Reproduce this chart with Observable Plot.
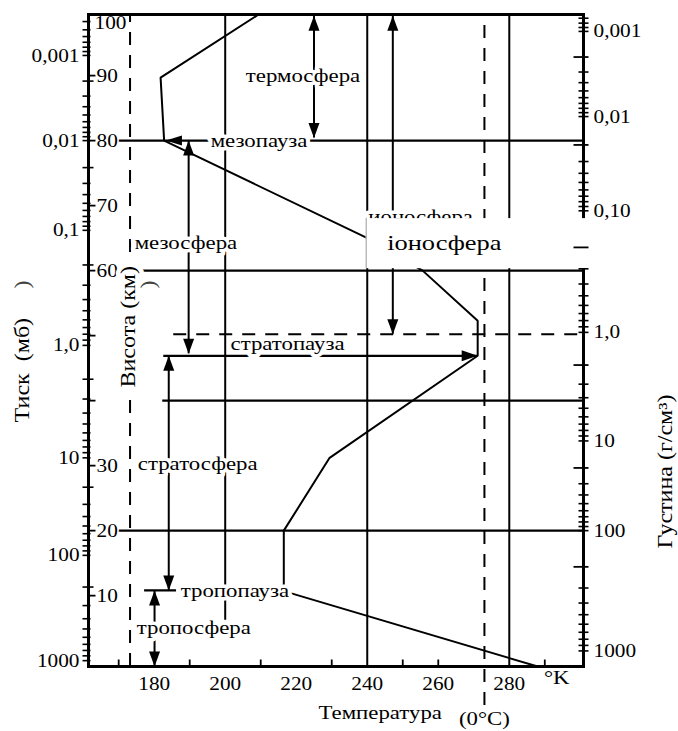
<!DOCTYPE html>
<html><head><meta charset="utf-8">
<script src="https://cdn.jsdelivr.net/npm/d3@7"></script>
<script src="https://cdn.jsdelivr.net/npm/@observablehq/plot@0.6"></script>
<style>
body{margin:0;background:#fff;}
svg{display:block;}
svg text{font-family:"Liberation Serif","Times New Roman",serif;}
</style>
</head><body>
<div id="chart"></div>
<script>
// ---------- data ----------
// temperature profile: temperature (K) vs altitude (km)
const profileT  = [288, 216.5, 216.5, 229.4, 271.1, 271.1, 255.6, 239.6, 182.8, 181.8, 209.4];
const profileKm = [-0.9, 10.7, 20, 31.2, 46.9, 52.3, 60, 65.1, 80, 89.7, 99.4];

const xTickLabels = [180, 200, 220, 240, 260, 280];
const xMinorTicks = [170, 190, 210, 230, 250, 260, 290];

const kmTicks  = [10, 20, 30, 40, 50, 60, 70, 80, 90];
const kmLabels = [90, 80, 70, 60, 30, 20, 10];
const kmTopLabel = 100;

const pressureLabels = ["0,001", "0,01", "0,1", "1,0", "10", "100", "1000"];
const pressureValues = [0.001, 0.01, 0.1, 1, 10, 100, 1000];
const pressureKm     = [93.1, 80, 66.2, 48.5, 31.2, 16.2, 0];

const densityLabels = ["0,001", "0,01", "0,10", "1,0", "10", "100", "1000"];
const densityValues = [0.001, 0.01, 0.1, 1, 10, 100, 1000];
const densityKm     = [96.8, 83.7, 69.2, 50.5, 33.8, 20, 1.5];

// horizontal level lines (km) and where they start (K)
const levelKm     = [80, 60, 40, 20];
const levelFromT  = [169.7, 169.7, 182.4, 169.7];
const dashLevelKm = [50.2];
const dashLevelFromT = [185.5];
const stratopauseKm = [46.9];
const stratopauseFromT = [182.7];
const stratopauseToT = [271.1];
const tropopauseKm = [10.8];
const tropopauseFromT = [177.3];
const tropopauseToT = [186.3];

// vertical lines
const gridT = [200, 240, 280];
const gridFromKm = [6.2, -0.9, -0.9];
const dashT = [173.2, 273];
const dashFromKm = [-0.9, -6.9];

// double-headed vertical arrows
const arrowT      = [225, 247.2, 189.7, 184.1, 180.1];
const arrowLowKm  = [80.4, 50.2, 47.2, 10.8, -0.9];
const arrowHighKm = [99.2, 99.2, 80.0, 46.9, 10.8];
const mesopauseTipT = [183.3];
const mesopauseTipKm = [80];

// layer names
const layerNames = ["термосфера", "мезопауза", "мезосфера", "стратопауза", "стратосфера", "тропопауза", "тропосфера"];
const layerT     = [205.8, 195.9, 174.5, 201.5, 175.4, 187.5, 175.1];
const layerKm    = [90, 80, 64.2, 48.8, 30.3, 10.8, 5.1];
const ionoOld = ["ионосфера"], ionoOldT = [240.3], ionoOldKm = [68.2];
const ionoNew = ["іоносфера"], ionoNewT = [245.6], ionoNewKm = [64.2];
const boxT1 = 239.7, boxT2 = 301.5, boxKm1 = 60.3, boxKm2 = 68.0;

// ---------- helpers ----------
const xDom = [161.5, 300.9], yDom = [-0.9, 99.4];
const font = "Liberation Serif";
const hTick = (a, b) => ({draw(c) { c.moveTo(a, 0); c.lineTo(b, 0); }});
const vTick = (a, b) => ({draw(c) { c.moveTo(0, a); c.lineTo(0, b); }});
const poly = (pts) => ({draw(c) { c.moveTo(...pts[0]); pts.slice(1).forEach(p => c.lineTo(...p)); c.closePath(); }});
const headUp    = poly([[0, 0], [-5.5, 15], [5.5, 15]]);
const headDown  = poly([[0, 0], [-5.5, -15], [5.5, -15]]);
const headLeft  = poly([[0, 0], [16, -5], [16, 5]]);
const headRight = poly([[0, 0], [-16, -5.5], [-16, 5.5]]);

const pScale = d3.scaleLog().domain(pressureValues).range(pressureKm);
const dScale = d3.scaleLog().domain(densityValues).range(densityKm);
const minor = [];
for (let e = -5; e <= 3; e++) for (let k = 1; k <= 9; k++) minor.push({v: k * Math.pow(10, e), k});
const inY = h => h >= yDom[0] - 0.01 && h <= yDom[1];
const pTicks = minor.map(d => ({...d, h: pScale(d.v)})).filter(d => inY(d.h));
const dTicks = minor.map(d => ({...d, h: dScale(d.v)})).filter(d => inY(d.h));

const idx = a => a.map((_, i) => i);
const T = {fontFamily: font, fill: "black"};
const halo = {...T, stroke: "white", strokeWidth: 7, strokeLinejoin: "round", paintOrder: "stroke"};

const plot = Plot.plot({
  width: 678, height: 731,
  marginLeft: 88, marginRight: 95, marginTop: 14, marginBottom: 65,
  x: {domain: xDom, axis: null},
  y: {domain: yDom, axis: null},
  style: {fontFamily: font, fontSize: "19px", background: "white", color: "black"},
  marks: [
    // vertical lines
    Plot.ruleX(idx(gridT), {x: i => gridT[i], y1: i => gridFromKm[i], y2: yDom[1], stroke: "black", strokeWidth: 2}),
    Plot.ruleX(idx(dashT), {x: i => dashT[i], y1: i => dashFromKm[i], y2: yDom[1], stroke: "black", strokeWidth: 2, strokeDasharray: "13,10"}),
    // horizontal lines
    Plot.ruleY(idx(levelKm), {y: i => levelKm[i], x1: i => levelFromT[i], x2: xDom[1], stroke: "black", strokeWidth: 2.2}),
    Plot.ruleY(idx(dashLevelKm), {y: i => dashLevelKm[i], x1: i => dashLevelFromT[i], x2: xDom[1], stroke: "black", strokeWidth: 2, strokeDasharray: "13,10"}),
    Plot.ruleY(idx(stratopauseKm), {y: i => stratopauseKm[i], x1: i => stratopauseFromT[i], x2: i => stratopauseToT[i], stroke: "black", strokeWidth: 2.2}),
    Plot.ruleY(idx(tropopauseKm), {y: i => tropopauseKm[i], x1: i => tropopauseFromT[i], x2: i => tropopauseToT[i], stroke: "black", strokeWidth: 2.2}),
    // temperature profile
    Plot.line(idx(profileT), {x: i => profileT[i], y: i => profileKm[i], stroke: "black", strokeWidth: 2, strokeLinejoin: "miter", curve: "linear"}),
    // arrows
    Plot.ruleX(idx(arrowT), {x: i => arrowT[i], y1: i => arrowLowKm[i], y2: i => arrowHighKm[i], stroke: "black", strokeWidth: 2}),
    Plot.dot(idx(arrowT), {x: i => arrowT[i], y: i => arrowHighKm[i], symbol: headUp, fill: "black", stroke: "none"}),
    Plot.dot(idx(arrowT), {x: i => arrowT[i], y: i => arrowLowKm[i], symbol: headDown, fill: "black", stroke: "none"}),
    Plot.dot(idx(stratopauseKm), {x: i => stratopauseToT[i], y: i => stratopauseKm[i], symbol: headRight, fill: "black", stroke: "none"}),
    Plot.dot(idx(mesopauseTipT), {x: i => mesopauseTipT[i], y: i => mesopauseTipKm[i], symbol: headLeft, fill: "black", stroke: "none"}),
    // old partially covered label
    Plot.text(ionoOld, {x: (d, i) => ionoOldT[i], y: (d, i) => ionoOldKm[i], text: d => d, textAnchor: "start", fontSize: 19, ...halo}),
    // frame
    Plot.frame({stroke: "black", strokeWidth: 3}),
    // pasted box
    Plot.rect([0], {x1: boxT1, x2: boxT2, y1: boxKm1, y2: boxKm2, fill: "white"}),
    Plot.ruleX([boxT1], {x: d => d, y1: boxKm1, y2: boxKm2, stroke: "#999", strokeWidth: 1}),
    Plot.text(ionoNew, {x: (d, i) => ionoNewT[i], y: (d, i) => ionoNewKm[i], text: d => d, textAnchor: "start", fontSize: 22, ...T}),
    // ticks: left (pressure), right (density), km, bottom
    Plot.dot(pTicks.filter(d => d.k !== 2), {x: xDom[0], y: "h", symbol: hTick(-6, 2), stroke: "black", strokeWidth: 1.6, fill: "none"}),
    Plot.dot(pTicks.filter(d => d.k === 2), {x: xDom[0], y: "h", symbol: hTick(-6, 5), stroke: "black", strokeWidth: 1.6, fill: "none"}),
    Plot.dot(kmTicks, {x: xDom[0], y: d => d, symbol: hTick(0, 7), stroke: "black", strokeWidth: 1.8, fill: "none"}),
    Plot.dot(dTicks.filter(d => d.k !== 2), {x: xDom[1], y: "h", symbol: hTick(-5, 5), stroke: "black", strokeWidth: 1.6, fill: "none"}),
    Plot.dot(dTicks.filter(d => d.k === 2), {x: xDom[1], y: "h", symbol: hTick(-10, 5), stroke: "black", strokeWidth: 1.8, fill: "none"}),
    Plot.dot(xMinorTicks, {x: d => d, y: yDom[0], symbol: vTick(0, -7), stroke: "black", strokeWidth: 1.8, fill: "none"}),
    // tick labels
    Plot.text(xTickLabels, {x: d => d, y: yDom[0], dy: 17, text: d => String(d), fontSize: 19, ...T}),
    Plot.text(["°K"], {frameAnchor: "bottom-right", dx: -14, dy: 17, fontSize: 19, ...T}),
    Plot.text(["(0°C)"], {x: 273, y: yDom[0], dy: 52, fontSize: 19, ...T}),
    Plot.text(pressureLabels, {x: xDom[0], y: (d, i) => pressureKm[i], dx: -9, text: d => d, textAnchor: "end", fontSize: 19, ...T}),
    Plot.text(densityLabels, {x: xDom[1], y: (d, i) => densityKm[i], dx: 10, text: d => d, textAnchor: "start", fontSize: 19, ...T}),
    Plot.text(kmLabels, {x: xDom[0], y: d => d, dx: 8, text: d => String(d), textAnchor: "start", fontSize: 19, ...halo, strokeWidth: 3}),
    Plot.text([kmTopLabel], {x: xDom[0], y: d => d, dx: 6, dy: 12, text: d => String(d), textAnchor: "start", fontSize: 19, ...T}),
    // layer labels
    Plot.text(layerNames, {x: (d, i) => layerT[i], y: (d, i) => layerKm[i], text: d => d, textAnchor: "start", fontSize: 19, ...halo}),
    // axis titles
    Plot.text(["Температура"], {frameAnchor: "bottom-left", dx: 230, dy: 52, fontSize: 19, ...T}),
    Plot.text(["Тиск\u2002(мб)"], {frameAnchor: "left", dx: -66, dy: 82, rotate: -90, fontSize: 20, ...T}),
    Plot.text(["Висота (км)"], {frameAnchor: "left", dx: 40, dy: 47, rotate: -90, fontSize: 20, ...halo, strokeWidth: 9}),
    Plot.text(["Густина (г/см³)"], {frameAnchor: "right", dx: 82, dy: 54, rotate: -90, fontSize: 20, ...T}),
    // remnants of older labels
    Plot.text([")"], {frameAnchor: "left", dx: -66, dy: -52, rotate: -90, fontSize: 20, ...T, fill: "#444"}),
    Plot.text([")"], {frameAnchor: "left", dx: 60, dy: -52, rotate: -90, fontSize: 20, ...T, fill: "#444"})
  ]
});
document.getElementById("chart").appendChild(plot);

// horizontal stretch of the scanned typeface
d3.select(plot).selectAll("text").each(function () {
  const t = this.textContent;
  const len = this.getComputedTextLength();
  if (!len) return;
  const f = /^[\d,]+$/.test(t) ? 1.12 : 1.2;
  this.setAttribute("textLength", (len * f).toFixed(1));
  this.setAttribute("lengthAdjust", "spacingAndGlyphs");
});
</script>
</body></html>
